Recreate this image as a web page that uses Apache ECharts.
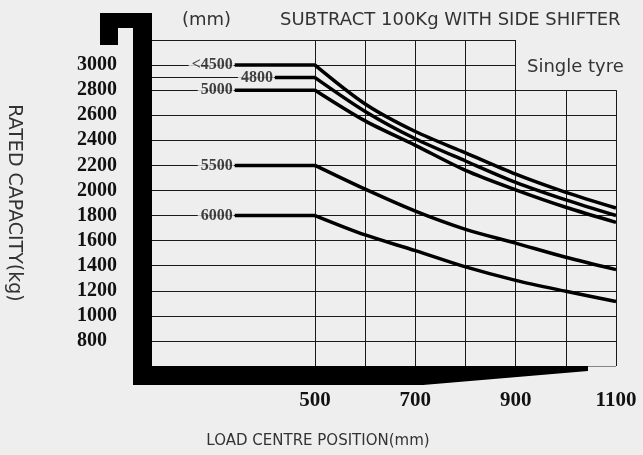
<!DOCTYPE html>
<html><head><meta charset="utf-8">
<script src="https://cdn.jsdelivr.net/npm/echarts@6/dist/echarts.min.js"></script>
<style>html,body{margin:0;padding:0;background:#eeeeee;}#c{width:643px;height:455px;}</style>
</head><body><div id="c"></div>
<script>
// ---- data ----
const loadCentres = [500, 600, 700, 800, 900, 1000, 1100];
const curveNames = ['<4500', '4800', '5000', '5500', '6000'];
const cap4500 = [3000, 2690, 2470, 2300, 2130, 1985, 1860];
const cap4800 = [2900, 2630, 2412, 2235, 2065, 1925, 1800];
const cap5000 = [2800, 2555, 2360, 2160, 2005, 1866, 1746];
const cap5500 = [2200, 2010, 1835, 1690, 1580, 1467, 1369];
const cap6000 = [1800, 1645, 1520, 1390, 1283, 1196, 1114];
const leadStarts = [340, 420, 340, 340, 340];
const yTickLabels = [800, 1000, 1200, 1400, 1600, 1800, 2000, 2200, 2400, 2600, 2800, 3000];
const xTickLabels = [500, 700, 900, 1100];
const hGrid = [600, 800, 1000, 1200, 1400, 1600, 1800, 2000, 2200, 2400, 2600, 2800, 3000, 3200];
const vGrid = [500, 600, 700, 800, 900, 1000, 1100];
const leader4800 = [[175, 2900], [420, 2900]];

const curves = [cap4500, cap4800, cap5000, cap5500, cap6000];
const X_MIN = 175, X_MAX = 1100, Y_MIN = 600, Y_MAX = 3200;
const BG = '#eeeeee';

const chart = echarts.init(document.getElementById('c'), null, {renderer: 'canvas'});

const gridData = [];
hGrid.forEach(v => {
  const xEnd = v > 2800 ? 900 : X_MAX;
  gridData.push({coords: [[X_MIN, v], [xEnd, v]]});
});
vGrid.forEach(x => {
  const yTop = x > 900 ? 2800 : Y_MAX;
  gridData.push({coords: [[x, Y_MIN], [x, yTop]]});
});
gridData.push({coords: leader4800});

const series = [{
  type: 'lines', coordinateSystem: 'cartesian2d', silent: true, z: 1,
  lineStyle: {color: '#1a1a1a', width: 1, opacity: 1},
  data: gridData
}];
curves.forEach((c, k) => {
  series.push({
    type: 'line', symbol: 'none', z: 3, silent: true,
    lineStyle: {color: '#000', width: 3.5},
    data: [[leadStarts[k], c[0]], [loadCentres[0], c[0]]]
  });
  series.push({
    type: 'line', symbol: 'none', z: 3, silent: true, smooth: 0.3,
    lineStyle: {color: '#000', width: 3.5},
    data: loadCentres.map((x, i) => [x, c[i]])
  });
});
series.push({
  type: 'scatter', symbolSize: 0, z: 4, silent: true,
  data: curves.map((c, k) => [leadStarts[k], c[0], curveNames[k]]),
  label: {
    show: true, position: 'left', distance: 1,
    formatter: p => p.value[2],
    fontFamily: 'Liberation Serif', fontWeight: 'bold', fontSize: 16, color: '#111',
    backgroundColor: BG, padding: [0, 1, 0, 3]
  }
});

chart.setOption({
  backgroundColor: BG,
  animation: false,
  grid: {left: 152, right: 27, top: 40, bottom: 89, containLabel: false, outerBoundsMode: 'none'},
  xAxis: {
    type: 'value', min: X_MIN, max: X_MAX,
    axisLine: {show: false}, axisTick: {show: false}, splitLine: {show: false},
    axisLabel: {
      customValues: xTickLabels, margin: 24,
      formatter: v => String(v),
      fontFamily: 'Liberation Serif', fontWeight: 'bold', fontSize: 21, color: '#111'
    }
  },
  yAxis: {
    type: 'value', min: Y_MIN, max: Y_MAX, interval: 200,
    axisLine: {show: false}, axisTick: {show: false}, splitLine: {show: false},
    axisLabel: {
      align: 'left', margin: 75,
      formatter: v => (yTickLabels.indexOf(v) >= 0 ? String(v) : ''),
      fontFamily: 'Liberation Serif', fontWeight: 'bold', fontSize: 20, color: '#111'
    },
    name: 'RATED CAPACITY(kg)', nameLocation: 'middle', nameRotate: -90, nameGap: 129,
    nameTextStyle: {fontFamily: 'DejaVu Sans', fontSize: 19, color: '#333'}
  },
  graphic: [
    {type: 'rect', z: 100, shape: {x: 100, y: 13, width: 52, height: 15}, style: {fill: '#000'}},
    {type: 'rect', z: 100, shape: {x: 100, y: 13, width: 18, height: 32}, style: {fill: '#000'}},
    {type: 'rect', z: 100, shape: {x: 133, y: 13, width: 19, height: 372}, style: {fill: '#000'}},
    {type: 'polygon', z: 100, shape: {points: [[133, 366], [588, 366], [588, 371], [423, 385], [133, 385]]}, style: {fill: '#000'}},
    {type: 'text', z: 100, x: 182, y: 20, style: {text: '(mm)', font: '18px "DejaVu Sans"', fill: '#333', verticalAlign: 'middle'}},
    {type: 'text', z: 100, x: 280, y: 20, style: {text: 'SUBTRACT 100Kg WITH SIDE SHIFTER', font: '18px "DejaVu Sans"', fill: '#333', verticalAlign: 'middle'}},
    {type: 'text', z: 100, x: 527, y: 67, style: {text: 'Single tyre', font: '18px "DejaVu Sans"', fill: '#333', verticalAlign: 'middle'}},
    {type: 'text', z: 100, x: 318, y: 441, style: {text: 'LOAD CENTRE POSITION(mm)', font: '15px "DejaVu Sans"', fill: '#333', align: 'center', verticalAlign: 'middle'}}
  ],
  series: series
});
</script>
</body></html>
